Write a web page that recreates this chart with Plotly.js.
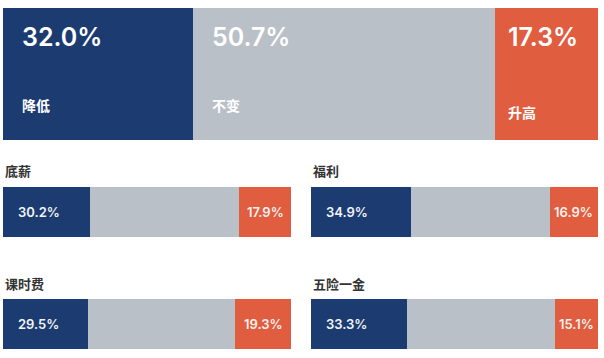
<!DOCTYPE html>
<html>
<head>
<meta charset="utf-8">
<script src="https://cdn.plot.ly/plotly-3.0.1.min.js"></script>
<style>html,body{margin:0;padding:0;background:#fff;}#chart{width:604px;height:358px;}</style>
</head>
<body>
<div id="chart"></div>
<script>
// ---- data ----
const seriesNames = ["降低", "不变", "升高"];
const overallValues = [32.0, 50.7, 17.3];
const itemNames = ["底薪", "福利", "课时费", "五险一金"];
const decreaseValues = [30.2, 34.9, 29.5, 33.3];
const increaseValues = [17.9, 16.9, 19.3, 15.1];
const unchangedValues = decreaseValues.map((d, i) => +(100 - d - increaseValues[i]).toFixed(1));

// ---- style ----
const colors = ["#1c3b70", "#b9c0c8", "#e05d3f"];
const latin = "Inter, 'Noto Sans CJK SC', sans-serif";
const cjk = "'Noto Sans CJK SC', Inter, sans-serif";
const W = 604, H = 358;
const px = v => v / W;
const py = v => 1 - v / H;

const traces = [];
const annotations = [];
const layout = {
  width: W, height: H,
  margin: {l: 0, r: 0, t: 0, b: 0},
  paper_bgcolor: "#fff", plot_bgcolor: "#fff",
  barmode: "stack", bargap: 0,
  showlegend: false,
  annotations: annotations
};

function addAxis(idx, xd, yd) {
  const xn = idx === 1 ? "xaxis" : "xaxis" + idx;
  const yn = idx === 1 ? "yaxis" : "yaxis" + idx;
  layout[xn] = {domain: xd, range: [0, 100], visible: false, fixedrange: true, anchor: idx === 1 ? "y" : "y" + idx};
  layout[yn] = {domain: yd, range: [-0.5, 0.5], visible: false, fixedrange: true, anchor: idx === 1 ? "x" : "x" + idx};
}

function addBars(idx, vals) {
  vals.forEach((v, k) => {
    traces.push({
      type: "bar", orientation: "h",
      x: [v], y: [0], width: [1],
      xaxis: idx === 1 ? "x" : "x" + idx,
      yaxis: idx === 1 ? "y" : "y" + idx,
      marker: {color: colors[k], line: {width: 0}},
      hoverinfo: "skip"
    });
  });
}

// Top overall bar
addAxis(1, [px(3), px(598)], [py(140), py(8)]);
addBars(1, overallValues);
let cum = 0;
overallValues.forEach((v, k) => {
  const shift = k === 2 ? 11 : 17;
  annotations.push({
    xref: "x", yref: "paper", x: cum, y: py(37), xanchor: "left", yanchor: "middle",
    xshift: shift, showarrow: false, text: v.toFixed(1) + "%",
    font: {family: latin, size: 25, color: "#ffffff", weight: 600}
  });
  annotations.push({
    xref: "x", yref: "paper", x: cum, y: py(k === 2 ? 112 : 105), xanchor: "left", yanchor: "middle",
    xshift: shift, showarrow: false, text: "<b>" + seriesNames[k] + "</b>",
    font: {family: cjk, size: 14, color: "#ffffff"}
  });
  cum += v;
});

// Small bars
const cells = [
  {x: [3, 291], y: [187, 237], title: 170},
  {x: [311, 598], y: [187, 237], title: 170},
  {x: [3, 291], y: [299, 349], title: 283},
  {x: [311, 598], y: [299, 349], title: 283}
];
itemNames.forEach((name, i) => {
  const idx = i + 2;
  const c = cells[i];
  addAxis(idx, [px(c.x[0]), px(c.x[1])], [py(c.y[1]), py(c.y[0])]);
  const vals = [decreaseValues[i], unchangedValues[i], increaseValues[i]];
  addBars(idx, vals);
  const xr = "x" + idx;
  const yc = py((c.y[0] + c.y[1]) / 2);
  annotations.push({
    xref: xr, yref: "paper", x: 0, y: yc, xanchor: "left", yanchor: "middle",
    xshift: 13, showarrow: false, text: decreaseValues[i].toFixed(1) + "%",
    font: {family: latin, size: 13, color: "#f2f4f7", weight: 600}
  });
  annotations.push({
    xref: xr, yref: "paper", x: 100 - increaseValues[i] / 2, y: yc, xanchor: "center", yanchor: "middle",
    showarrow: false, text: increaseValues[i].toFixed(1) + "%",
    font: {family: latin, size: 13, color: "#f7f1ee", weight: 600}
  });
  annotations.push({
    xref: "paper", yref: "paper", x: px(c.x[0]), y: py(c.title), xanchor: "left", yanchor: "middle",
    showarrow: false, text: "<b>" + name + "</b>",
    font: {family: cjk, size: 13, color: "#333333"}
  });
});

Plotly.newPlot("chart", traces, layout, {staticPlot: true, displayModeBar: false});
</script>
</body>
</html>
